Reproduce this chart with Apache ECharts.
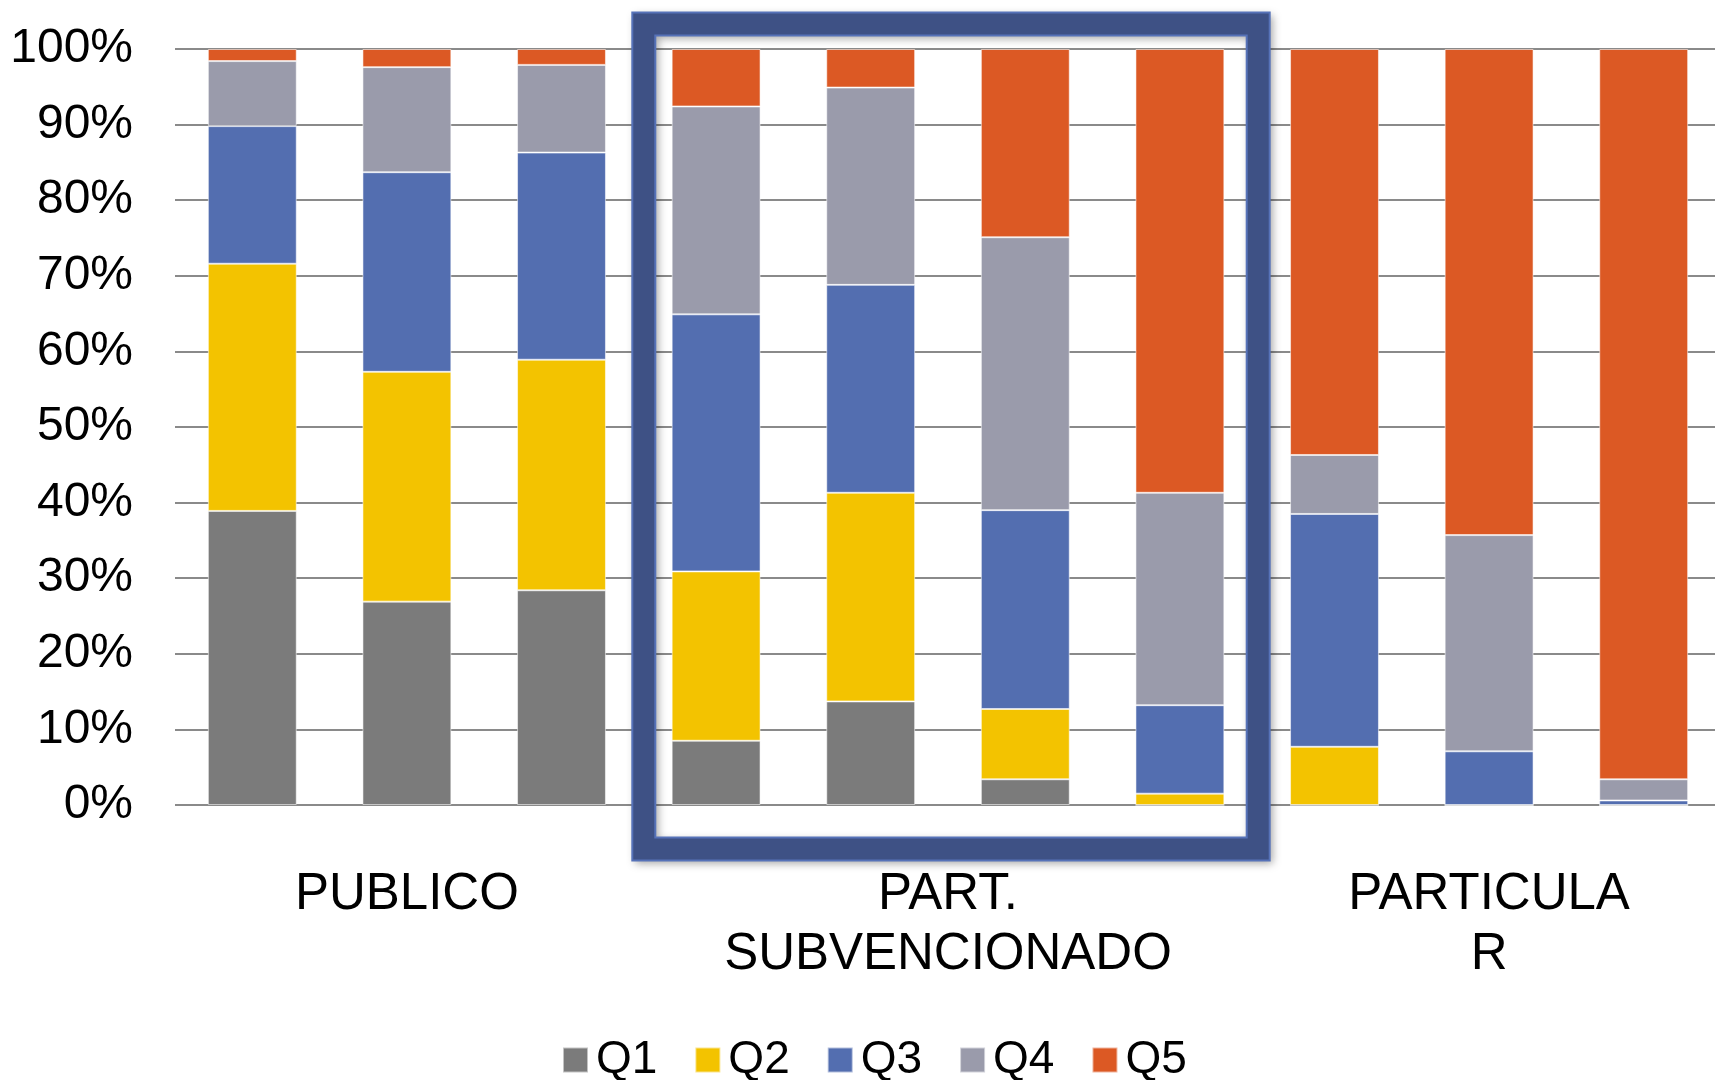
<!DOCTYPE html>
<html>
<head>
<meta charset="utf-8">
<script src="https://cdn.jsdelivr.net/npm/echarts@6/dist/echarts.min.js"></script>
<style>
html,body{margin:0;padding:0;background:#fff;}
#chart{width:1715px;height:1080px;}
</style>
</head>
<body>
<div id="chart"></div>
<script>
// ---- data ----
const bars = ['PUBLICO-1','PUBLICO-2','PUBLICO-3','SUBV-1','SUBV-2','SUBV-3','SUBV-4','PART-1','PART-2','PART-3'];
const groupLabels = ['PUBLICO', 'PART.\nSUBVENCIONADO', 'PARTICULA\nR'];
const groupSizes = [3, 4, 3];
const seriesNames = ['Q1','Q2','Q3','Q4','Q5'];
const q1 = [38.9, 26.9, 28.4, 8.5, 13.7, 3.4, 0.0, 0.0, 0.0, 0.0];
const q2 = [32.7, 30.4, 30.5, 22.4, 27.6, 9.3, 1.5, 7.7, 0.0, 0.0];
const q3 = [18.2, 26.4, 27.4, 34.0, 27.5, 26.3, 11.7, 30.8, 7.1, 0.6];
const q4 = [8.6, 13.9, 11.6, 27.5, 26.1, 36.1, 28.1, 7.8, 28.6, 2.8];
const q5 = [1.6, 2.4, 2.1, 7.6, 5.1, 24.9, 58.7, 53.7, 64.3, 96.6];
const yTicks = [0,10,20,30,40,50,60,70,80,90,100];
const colors = ['#7b7b7b','#f3c300','#536eb0','#9a9bab','#dc5924'];
const highlightGroup = 1;

// group label positions (in bar-band units)
const groupPos = {};
let acc = 0;
groupSizes.forEach((n, i) => { groupPos[(acc + n / 2).toFixed(2)] = groupLabels[i]; acc += n; });

const FONT = "'Liberation Sans', Arial, sans-serif";
const values = [q1, q2, q3, q4, q5];

const chart = echarts.init(document.getElementById('chart'), null, {renderer: 'canvas'});
const option = {
  animation: false,
  backgroundColor: '#ffffff',
  grid: {left: 175, width: 1546, top: 49, bottom: 275, outerBoundsMode: 'none', containLabel: false},
  legend: {
    left: 557, top: 1027,
    icon: 'rect', itemWidth: 25, itemHeight: 25, itemGap: 37,
    textStyle: {fontFamily: FONT, fontSize: 46, color: '#000', lineHeight: 56, padding: [0, 0, 0, 3]},
    data: seriesNames
  },
  xAxis: [
    {
      type: 'category', data: bars, gridIndex: 0,
      axisLine: {show: false}, axisTick: {show: false}, axisLabel: {show: false},
      splitLine: {show: false}
    },
    {
      type: 'value', gridIndex: 0, position: 'bottom', min: 0, max: bars.length, interval: 0.5,
      axisLine: {show: false}, axisTick: {show: false}, splitLine: {show: false},
      axisLabel: {
        show: true, margin: 60, interval: 0, showMinLabel: true, showMaxLabel: true,
        fontFamily: FONT, fontSize: 51, lineHeight: 60, color: '#000',
        verticalAlign: 'top', align: 'center',
        formatter: v => groupPos[Number(v).toFixed(2)] || ''
      }
    }
  ],
  yAxis: {
    type: 'value', min: yTicks[0], max: yTicks[yTicks.length - 1], interval: 10,
    axisLine: {show: false}, axisTick: {show: false},
    axisLabel: {formatter: '{value}%', fontFamily: FONT, fontSize: 48, color: '#000', margin: 42},
    splitLine: {lineStyle: {color: '#8a8a8a', width: 2}}
  },
  series: seriesNames.map((name, i) => ({
    name, type: 'bar', stack: 'total', xAxisIndex: 0,
    barCategoryGap: '42.5%',
    data: values[i],
    itemStyle: {color: colors[i], borderColor: 'rgba(255,255,255,0.55)', borderWidth: 1}
  }))
};
chart.setOption(option);

// highlight rectangle derived from axis scales
const start = groupSizes.slice(0, highlightGroup).reduce((a, b) => a + b, 0);
const end = start + groupSizes[highlightGroup] - 1;
const c0 = chart.convertToPixel({xAxisIndex: 0}, start);
const c1 = chart.convertToPixel({xAxisIndex: 0}, start + 1);
const cEnd = chart.convertToPixel({xAxisIndex: 0}, end);
const bw = c1 - c0;
const yTop = chart.convertToPixel({yAxisIndex: 0}, 100);
const yBot = chart.convertToPixel({yAxisIndex: 0}, 0);
const rx0 = c0 - bw / 2 + 5, rx1 = cEnd + bw / 2 + 1;
const ry0 = yTop - 25, ry1 = yBot + 44;
const bwid = 23;
chart.setOption({
  graphic: [
    {
      type: 'rect', z: 100,
      shape: {x: rx0, y: ry0, width: rx1 - rx0, height: ry1 - ry0},
      style: {fill: null, stroke: '#3e5185', lineWidth: bwid,
        shadowColor: 'rgba(0,0,0,0.35)', shadowBlur: 8, shadowOffsetX: 3, shadowOffsetY: 3}
    },
    {
      type: 'rect', z: 101,
      shape: {x: rx0 - bwid / 2, y: ry0 - bwid / 2, width: rx1 - rx0 + bwid, height: ry1 - ry0 + bwid},
      style: {fill: null, stroke: '#5672b8', lineWidth: 2}
    },
    {
      type: 'rect', z: 101,
      shape: {x: rx0 + bwid / 2, y: ry0 + bwid / 2, width: rx1 - rx0 - bwid, height: ry1 - ry0 - bwid},
      style: {fill: null, stroke: '#5672b8', lineWidth: 2}
    }
  ]
});
</script>
</body>
</html>
